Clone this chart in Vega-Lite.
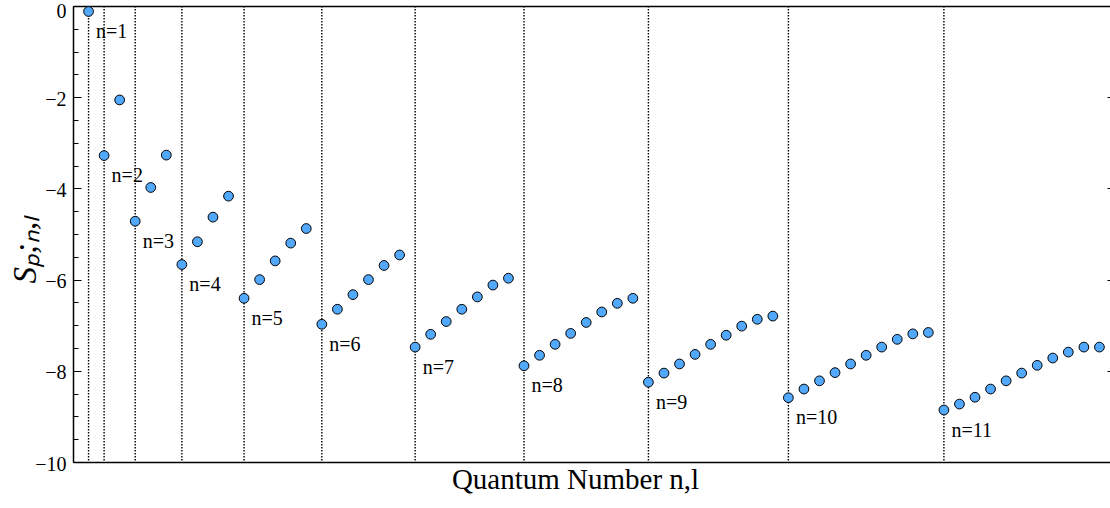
{
  "$schema": "https://vega.github.io/schema/vega-lite/v6.json",
  "autosize": "none",
  "width": 1037,
  "height": 456,
  "padding": {"left": 73, "top": 6, "right": 0, "bottom": 46},
  "background": "white",
  "config": {
    "view": {"stroke": null},
    "axis": {"grid": false, "labelOverlap": false}
  },
  "data": {
    "values": [
      {"i": 1, "n": 1, "l": 0, "s": -0.12},
      {"i": 2, "n": 2, "l": 0, "s": -3.28},
      {"i": 3, "n": 2, "l": 1, "s": -2.06},
      {"i": 4, "n": 3, "l": 0, "s": -4.72},
      {"i": 5, "n": 3, "l": 1, "s": -3.98},
      {"i": 6, "n": 3, "l": 2, "s": -3.27},
      {"i": 7, "n": 4, "l": 0, "s": -5.67},
      {"i": 8, "n": 4, "l": 1, "s": -5.17},
      {"i": 9, "n": 4, "l": 2, "s": -4.63},
      {"i": 10, "n": 4, "l": 3, "s": -4.17},
      {"i": 11, "n": 5, "l": 0, "s": -6.41},
      {"i": 12, "n": 5, "l": 1, "s": -6.0},
      {"i": 13, "n": 5, "l": 2, "s": -5.59},
      {"i": 14, "n": 5, "l": 3, "s": -5.2},
      {"i": 15, "n": 5, "l": 4, "s": -4.88},
      {"i": 16, "n": 6, "l": 0, "s": -6.98},
      {"i": 17, "n": 6, "l": 1, "s": -6.65},
      {"i": 18, "n": 6, "l": 2, "s": -6.33},
      {"i": 19, "n": 6, "l": 3, "s": -6.0},
      {"i": 20, "n": 6, "l": 4, "s": -5.69},
      {"i": 21, "n": 6, "l": 5, "s": -5.46},
      {"i": 22, "n": 7, "l": 0, "s": -7.48},
      {"i": 23, "n": 7, "l": 1, "s": -7.2},
      {"i": 24, "n": 7, "l": 2, "s": -6.92},
      {"i": 25, "n": 7, "l": 3, "s": -6.65},
      {"i": 26, "n": 7, "l": 4, "s": -6.38},
      {"i": 27, "n": 7, "l": 5, "s": -6.12},
      {"i": 28, "n": 7, "l": 6, "s": -5.97},
      {"i": 29, "n": 8, "l": 0, "s": -7.89},
      {"i": 30, "n": 8, "l": 1, "s": -7.66},
      {"i": 31, "n": 8, "l": 2, "s": -7.42},
      {"i": 32, "n": 8, "l": 3, "s": -7.18},
      {"i": 33, "n": 8, "l": 4, "s": -6.94},
      {"i": 34, "n": 8, "l": 5, "s": -6.71},
      {"i": 35, "n": 8, "l": 6, "s": -6.52},
      {"i": 36, "n": 8, "l": 7, "s": -6.41},
      {"i": 37, "n": 9, "l": 0, "s": -8.25},
      {"i": 38, "n": 9, "l": 1, "s": -8.05},
      {"i": 39, "n": 9, "l": 2, "s": -7.85},
      {"i": 40, "n": 9, "l": 3, "s": -7.64},
      {"i": 41, "n": 9, "l": 4, "s": -7.42},
      {"i": 42, "n": 9, "l": 5, "s": -7.22},
      {"i": 43, "n": 9, "l": 6, "s": -7.02},
      {"i": 44, "n": 9, "l": 7, "s": -6.87},
      {"i": 45, "n": 9, "l": 8, "s": -6.8},
      {"i": 46, "n": 10, "l": 0, "s": -8.59},
      {"i": 47, "n": 10, "l": 1, "s": -8.4},
      {"i": 48, "n": 10, "l": 2, "s": -8.22},
      {"i": 49, "n": 10, "l": 3, "s": -8.04},
      {"i": 50, "n": 10, "l": 4, "s": -7.85},
      {"i": 51, "n": 10, "l": 5, "s": -7.66},
      {"i": 52, "n": 10, "l": 6, "s": -7.48},
      {"i": 53, "n": 10, "l": 7, "s": -7.31},
      {"i": 54, "n": 10, "l": 8, "s": -7.19},
      {"i": 55, "n": 10, "l": 9, "s": -7.16},
      {"i": 56, "n": 11, "l": 0, "s": -8.86},
      {"i": 57, "n": 11, "l": 1, "s": -8.73},
      {"i": 58, "n": 11, "l": 2, "s": -8.58},
      {"i": 59, "n": 11, "l": 3, "s": -8.4},
      {"i": 60, "n": 11, "l": 4, "s": -8.22},
      {"i": 61, "n": 11, "l": 5, "s": -8.05},
      {"i": 62, "n": 11, "l": 6, "s": -7.88},
      {"i": 63, "n": 11, "l": 7, "s": -7.72},
      {"i": 64, "n": 11, "l": 8, "s": -7.59},
      {"i": 65, "n": 11, "l": 9, "s": -7.48},
      {"i": 66, "n": 11, "l": 10, "s": -7.48}
    ]
  },
  "layer": [
    {
      "transform": [{"filter": "datum.l === 0"}],
      "mark": {"type": "rule", "color": "black", "strokeWidth": 1.4, "strokeDash": [1.4, 1.6]},
      "encoding": {
        "x": {
          "field": "i",
          "type": "quantitative",
          "scale": {"domain": [0, 66.68], "nice": false, "zero": false},
          "axis": {
            "orient": "top",
            "ticks": false,
            "labels": false,
            "title": null,
            "domainColor": "black",
            "domainWidth": 1.5
          }
        }
      }
    },
    {
      "mark": {"type": "circle", "fill": "#52a8fa", "stroke": "black", "strokeWidth": 1, "size": 95, "opacity": 1},
      "encoding": {
        "x": {
          "field": "i",
          "type": "quantitative",
          "axis": {
            "orient": "bottom",
            "ticks": false,
            "labels": false,
            "domainColor": "black",
            "domainWidth": 1.5,
            "title": "Quantum Number n,l",
            "titleFont": "Liberation Serif",
            "titleFontSize": 29,
            "titleFontWeight": "normal",
            "titleColor": "black",
            "titleX": 502,
            "titleY": 26,
            "titleBaseline": "alphabetic"
          }
        },
        "y": {
          "field": "s",
          "type": "quantitative",
          "scale": {"domain": [-10, 0], "nice": false, "zero": false},
          "axis": {
            "orient": "left",
            "values": [-10, -9.5, -9, -8.5, -8, -7.5, -7, -6.5, -6, -5.5, -5, -4.5, -4, -3.5, -3, -2.5, -2, -1.5, -1, -0.5, 0],
            "labelExpr": "datum.value % 2 === 0 ? replace(format(datum.value, 'd'), '-', '\u2212') : ''",
            "tickSize": {"condition": {"test": "datum.value % 2 === 0", "value": -8}, "value": -5},
            "tickColor": "black",
            "tickWidth": 1,
            "labelPadding": 15,
            "labelOffset": {"condition": {"test": "datum.value === 0", "value": 5}, "value": 2},
            "labelFont": "Liberation Serif",
            "labelFontSize": 20,
            "labelColor": "black",
            "domainColor": "black",
            "domainWidth": 1.5,
            "title": "Sₚ;ₙ,ₗ",
            "titleFont": "Liberation Serif",
            "titleFontStyle": "italic",
            "titleFontWeight": "normal",
            "titleFontSize": 33,
            "titleColor": "black",
            "titleAngle": -90,
            "titleAlign": "center",
            "titleBaseline": "alphabetic",
            "titleX": -38,
            "titleY": 243
          }
        }
      }
    },
    {
      "transform": [
        {"filter": "datum.l === 0"},
        {"calculate": "'n=' + datum.n", "as": "label"}
      ],
      "mark": {"type": "text", "align": "left", "baseline": "alphabetic", "dx": 7.5, "dy": 26.5, "font": "Liberation Serif", "fontSize": 20, "color": "black"},
      "encoding": {
        "x": {"field": "i", "type": "quantitative", "axis": null},
        "y": {
          "field": "s",
          "type": "quantitative",
          "axis": {
            "orient": "right",
            "values": [-8, -6, -4, -2],
            "labels": false,
            "domain": false,
            "title": null,
            "tickSize": -3,
            "tickColor": "black",
            "tickWidth": 1
          }
        },
        "text": {"field": "label"}
      }
    }
  ]
}
